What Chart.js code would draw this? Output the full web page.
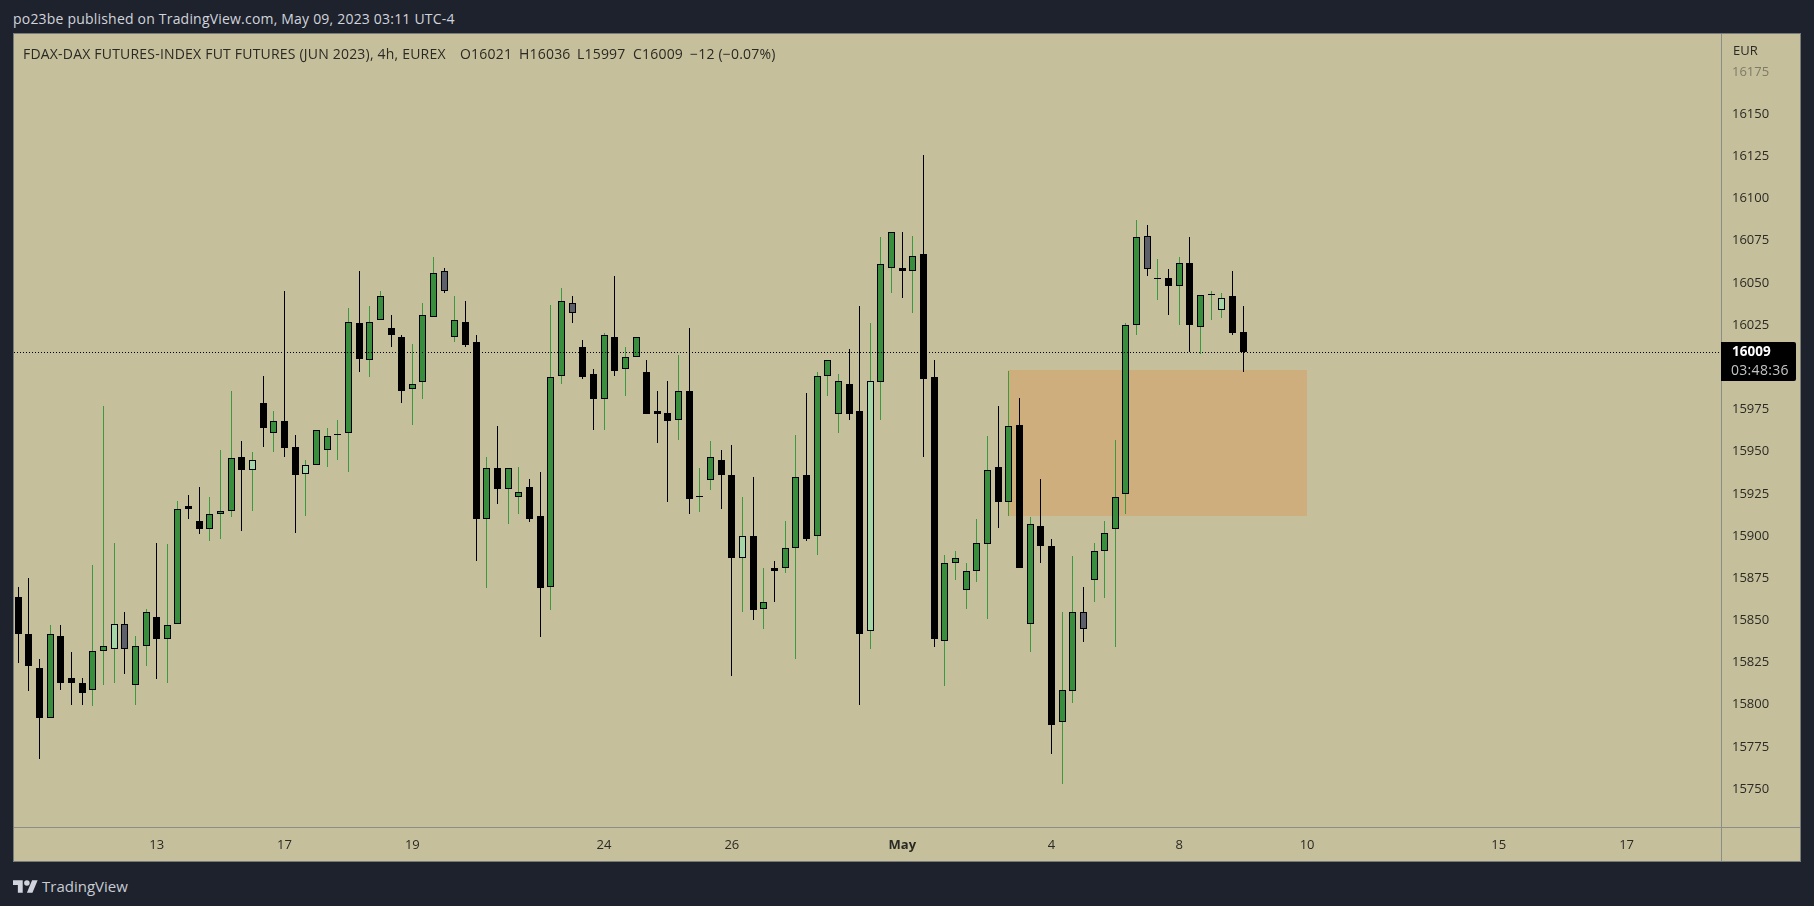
<!DOCTYPE html>
<html lang="en">
<head>
    <meta charset="UTF-8">
    <title>FDAX 4h</title>
    <style>
        * {
            margin: 0;
            padding: 0;
            box-sizing: border-box;
        }

        body {
            width: 1814px;
            height: 906px;
            background: #1e222d;
            overflow: hidden;
            font-family: 'Open Sans', Arial, sans-serif;
            position: relative;
        }

        #published {
            position: absolute;
            left: 13px;
            top: 10px;
            font-size: 14px;
            line-height: 18px;
            letter-spacing: 0.2px;
            color: #d1d4dc;
            white-space: nowrap;
        }

        #pane {
            position: absolute;
            left: 13px;
            top: 33px;
            width: 1788px;
            height: 829px;
            border: 1px solid #787b7c;
            background: #c6bf9c;
        }

        #chartBox {
            position: absolute;
            left: 0;
            top: 0;
            width: 1786px;
            height: 827px;
        }

        #legend {
            position: absolute;
            left: 9px;
            top: 11px;
            font-size: 14px;
            line-height: 18px;
            letter-spacing: 0.2px;
            color: #2a2a24;
            white-space: nowrap;
        }

        #legend span {
            position: absolute;
            top: 0;
        }

        #currency {
            position: absolute;
            left: 1719px;
            top: 7px;
            font-size: 13px;
            line-height: 18px;
            color: #2a2a24;
        }

        #brand {
            position: absolute;
            left: 13px;
            top: 876px;
            display: flex;
            align-items: center;
            color: #c8cbd3;
            font-size: 15px;
        }

        #brand svg {
            width: 25px;
            height: 13px;
            margin-right: 4px;
            fill: #d1d4dc;
        }
    </style>
    <script src="https://cdn.jsdelivr.net/npm/chart.js"></script>
</head>
<body>
    <div id="published">po23be published on TradingView.com, May 09, 2023 03:11 UTC-4</div>
    <div id="pane">
        <div id="chartBox"><canvas id="grafico"></canvas></div>
        <div id="legend">FDAX-DAX FUTURES-INDEX FUT FUTURES (JUN 2023), 4h, EUREX<span style="left:437px">O16021</span><span style="left:496px">H16036</span><span style="left:554px">L15997</span><span style="left:610px">C16009</span><span style="left:667px">−12 (−0.07%)</span></div>
        <div id="currency">EUR</div>
    </div>
    <div id="brand">
        <svg viewBox="0 4 36 18"><path d="M14 22H7V11H0V4h14v18zM28 22h-8l7.5-18h8L28 22z"></path><circle cx="20" cy="8" r="4"></circle></svg>
        TradingView
    </div>
    <script>
        const opens = [
            15864, 15842, 15822, 15792, 15841, 15816, 15813, 15809, 15832, 15833,
            15848, 15812, 15835, 15852, 15839, 15848, 15918, 15909, 15904, 15913,
            15915, 15947, 15939, 15979, 15961, 15968, 15953, 15937, 15942, 15951,
            15960, 15961, 16026, 16004, 16028, 16023, 16018, 15987, 15991, 16030,
            16057, 16018, 16027, 16015, 15910, 15940, 15928, 15923, 15929, 15912,
            15870, 15995, 16038, 16012, 15996, 15981, 16018, 15999, 16006, 15997,
            15974, 15973, 15969, 15986, 15923, 15933, 15945, 15936, 15887, 15900,
            15857, 15881, 15881, 15893, 15936, 15900, 15995, 15972, 15990, 15974,
            15844, 15991, 16059, 16059, 16057, 16067, 15994, 15838, 15884, 15868,
            15879, 15895, 15941, 15920, 15966, 15848, 15906, 15894, 15790, 15808,
            15855, 15874, 15891, 15904, 15925, 16025, 16078, 16052, 16053, 16048,
            16062, 16024, 16043, 16034, 16042, 16021
        ];
        const highs = [
            15870, 15875, 15827, 15847, 15847, 15831, 15816, 15883, 15977, 15896,
            15855, 15841, 15857, 15896, 15895, 15921, 15924, 15929, 15923, 15951,
            15986, 15956, 15950, 15995, 15974, 16045, 15960, 15945, 15963, 15964,
            15969, 16035, 16057, 16036, 16045, 16031, 16019, 16014, 16038, 16065,
            16059, 16042, 16039, 16019, 15947, 15965, 15940, 15941, 15934, 15938,
            16037, 16047, 16042, 16016, 15999, 16020, 16054, 16012, 16018, 16004,
            15986, 15992, 16007, 16023, 15940, 15956, 15951, 15954, 15923, 15935,
            15881, 15885, 15909, 15960, 15985, 15997, 16004, 15996, 16011, 16036,
            16026, 16077, 16080, 16080, 16078, 16126, 16004, 15889, 15891, 15884,
            15910, 15959, 15977, 15998, 15982, 15911, 15934, 15898, 15855, 15888,
            15870, 15896, 15909, 15957, 16026, 16087, 16084, 16064, 16058, 16065,
            16077, 16043, 16045, 16044, 16057, 16036
        ];
        const lows = [
            15825, 15808, 15768, 15792, 15809, 15800, 15800, 15799, 15812, 15813,
            15818, 15800, 15823, 15815, 15813, 15848, 15910, 15901, 15897, 15898,
            15911, 15903, 15915, 15953, 15950, 15947, 15902, 15912, 15942, 15941,
            15945, 15938, 15997, 15994, 16028, 16012, 15979, 15966, 15981, 16030,
            16044, 16015, 16012, 15885, 15869, 15919, 15907, 15913, 15908, 15840,
            15856, 15990, 16026, 15993, 15963, 15963, 15995, 15983, 16006, 15972,
            15955, 15920, 15957, 15913, 15914, 15927, 15916, 15817, 15855, 15850,
            15845, 15861, 15878, 15827, 15897, 15889, 15983, 15961, 15969, 15800,
            15833, 15969, 16044, 16041, 16032, 15947, 15834, 15811, 15874, 15857,
            15873, 15851, 15905, 15912, 15881, 15831, 15884, 15771, 15753, 15801,
            15837, 15861, 15863, 15834, 15913, 16019, 16054, 16040, 16031, 16025,
            16009, 16008, 16028, 16029, 16019, 15997
        ];
        const closes = [
            15842, 15823, 15792, 15842, 15813, 15813, 15807, 15832, 15835, 15848,
            15833, 15835, 15855, 15839, 15847, 15916, 15916, 15904, 15913, 15915,
            15946, 15939, 15945, 15964, 15968, 15952, 15936, 15942, 15963, 15959,
            15960, 16027, 16005, 16027, 16042, 16019, 15986, 15990, 16031, 16056,
            16045, 16028, 16013, 15910, 15940, 15928, 15940, 15926, 15910, 15869,
            15994, 16039, 16032, 15994, 15981, 16019, 15998, 16006, 16018, 15972,
            15972, 15968, 15986, 15922, 15923, 15947, 15936, 15887, 15900, 15856,
            15861, 15879, 15893, 15935, 15898, 15995, 16004, 15992, 15972, 15842,
            15992, 16061, 16080, 16057, 16066, 15993, 15839, 15884, 15887, 15879,
            15896, 15939, 15920, 15965, 15881, 15907, 15894, 15788, 15809, 15855,
            15845, 15891, 15902, 15923, 16025, 16077, 16058, 16053, 16048, 16062,
            16025, 16043, 16043, 16041, 16020, 16009
        ];

        // candles the indicator repaints
        const paleCandles = [9, 22, 27, 68, 80, 113];
        const greyCandles = [10, 40, 52, 100, 106];

        const xTickSlots = [13, 25, 37, 55, 67, 83, 97, 109, 121, 139, 151];
        const xTickLabels = ['13', '17', '19', '24', '26', 'May', '4', '8', '10', '15', '17'];

        const zoneStart = 93;
        const zoneEnd = 121;
        const zoneTop = 15998.5;
        const zoneBottom = 15912;

        const lastPrice = 16009;
        const countdown = '03:48:36';

        const verde = '#388e3c';
        const verdePavio = '#3a9a40';
        const verdeClaro = '#a5d6a7';
        const cinza = '#5d606b';
        const preto = '#000000';
        const linhaEixo = '#8b8d88';

        const candles = opens.map((o, i) => i);
        const isUp = (i) => closes[i] >= opens[i];

        const bodyColor = (i) => {
            if (paleCandles.includes(i)) return verdeClaro;
            if (greyCandles.includes(i)) return cinza;
            return isUp(i) ? verde : preto;
        };

        // keep the thin wicks on whole pixels, like the original
        const snapBars = {
            id: 'snapBars',
            beforeDatasetsDraw(chart) {
                chart.getSortedVisibleDatasetMetas().forEach((meta) => {
                    meta.data.forEach((bar) => {
                        bar.x = Math.floor(bar.x) + 0.5;
                        bar.y = Math.round(bar.y);
                        bar.base = Math.round(bar.base);
                        if (bar.y === bar.base) bar.base = bar.y + 1;
                    });
                });
            }
        };

        const zone = {
            id: 'zone',
            beforeDatasetsDraw(chart) {
                const { ctx, scales: { x, y } } = chart;
                const left = Math.floor(x.getPixelForValue(zoneStart));
                const top = Math.round(y.getPixelForValue(zoneTop));
                ctx.save();
                ctx.fillStyle = '#cfae7d';
                ctx.fillRect(left, top, Math.round(x.getPixelForValue(zoneEnd)) - left, Math.round(y.getPixelForValue(zoneBottom)) - top);
                ctx.restore();
            }
        };

        const priceLine = {
            id: 'priceLine',
            afterDatasetsDraw(chart) {
                const { ctx, chartArea, scales: { y } } = chart;
                const py = Math.round(y.getPixelForValue(lastPrice)) + 0.5;
                ctx.save();
                ctx.strokeStyle = preto;
                ctx.lineWidth = 1;
                ctx.setLineDash([1, 2]);
                ctx.beginPath();
                ctx.moveTo(chartArea.left, py);
                ctx.lineTo(chartArea.right, py);
                ctx.stroke();
                ctx.restore();
            },
            afterDraw(chart) {
                const { ctx, chartArea, scales: { y } } = chart;
                const py = Math.round(y.getPixelForValue(lastPrice));

                // axis lines run through to the edge of the pane
                ctx.save();
                ctx.fillStyle = linhaEixo;
                ctx.fillRect(Math.round(chartArea.right), 0, 1, chart.height);
                ctx.fillRect(0, Math.round(chartArea.bottom), chart.width, 1);

                const boxLeft = Math.round(chartArea.right);
                ctx.fillStyle = preto;
                ctx.beginPath();
                ctx.roundRect(boxLeft, py - 10, 75, 39, [0, 2, 2, 0]);
                ctx.fill();
                ctx.textAlign = 'left';
                ctx.textBaseline = 'middle';
                ctx.fillStyle = '#ffffff';
                ctx.font = "bold 13.5px 'Open Sans', Arial, sans-serif";
                ctx.fillText(String(lastPrice), boxLeft + 11, py + 0.5);
                ctx.fillStyle = '#c4c4c4';
                ctx.font = "14px 'Open Sans', Arial, sans-serif";
                ctx.letterSpacing = '0.3px';
                ctx.fillText(countdown, boxLeft + 10, py + 19);
                ctx.restore();
            }
        };

        const ctx = document.getElementById('grafico').getContext('2d');
        const grafico = new Chart(ctx, {
            type: 'bar',
            data: {
                datasets: [
                    {
                        label: 'Wicks',
                        data: candles.map((i) => ({ x: i, y: [lows[i], highs[i]] })),
                        backgroundColor: candles.map((i) => (isUp(i) ? verdePavio : preto)),
                        borderWidth: 0,
                        barThickness: 1,
                        grouped: false,
                        inflateAmount: 0,
                        order: 2
                    },
                    {
                        label: 'Bodies',
                        data: candles.map((i) => ({ x: i, y: [opens[i], closes[i]] })),
                        backgroundColor: candles.map(bodyColor),
                        borderColor: preto,
                        borderWidth: 1,
                        borderSkipped: false,
                        barThickness: 7,
                        minBarLength: 1,
                        grouped: false,
                        inflateAmount: 0,
                        order: 1
                    }
                ]
            },
            plugins: [zone, snapBars, priceLine],
            options: {
                responsive: true,
                maintainAspectRatio: false,
                animation: false,
                layout: { padding: 0 },
                plugins: {
                    legend: { display: false },
                    tooltip: { enabled: false }
                },
                scales: {
                    x: {
                        type: 'linear',
                        offset: false,
                        min: -0.394,
                        max: 159.86,
                        grid: { display: false },
                        border: { display: false },
                        afterBuildTicks(scale) {
                            scale.ticks = xTickSlots.map((value) => ({ value }));
                        },
                        afterFit(scale) {
                            scale.height = 34;
                            scale.paddingLeft = 0;
                            scale.paddingRight = 0;
                        },
                        ticks: {
                            autoSkip: false,
                            maxRotation: 0,
                            padding: 2,
                            color: '#2a2a24',
                            font: (c) => ({
                                family: "'Open Sans', Arial, sans-serif",
                                size: 13,
                                weight: c.tick && c.tick.value === 83 ? 'bold' : 'normal'
                            }),
                            callback: (value) => xTickLabels[xTickSlots.indexOf(value)]
                        }
                    },
                    y: {
                        position: 'right',
                        min: 15727.6,
                        max: 16197.4,
                        grid: { display: false },
                        border: { display: false },
                        afterFit(scale) {
                            scale.width = 79;
                            scale.paddingTop = 0;
                            scale.paddingBottom = 0;
                        },
                        ticks: {
                            stepSize: 25,
                            includeBounds: false,
                            padding: 3,
                            color: (c) => (c.tick && c.tick.value === 16175 ? '#7d7a68' : '#2a2a24'),
                            font: { family: "'Open Sans', Arial, sans-serif", size: 13 },
                            callback: (value) => String(value)
                        }
                    }
                }
            }
        });
    </script>
</body>
</html>
